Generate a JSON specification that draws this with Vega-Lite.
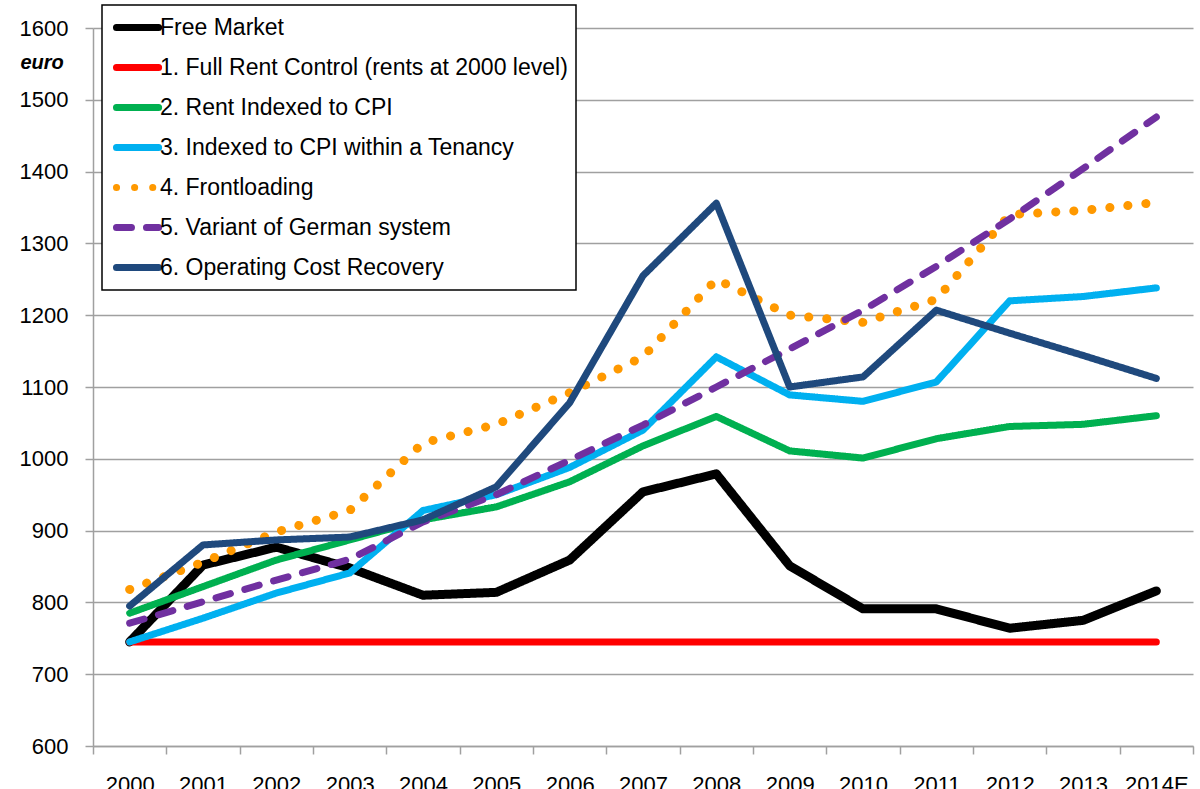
{
  "$schema": "https://vega.github.io/schema/vega-lite/v6.json",
  "width": 1100,
  "height": 718,
  "autosize": {"type": "none"},
  "padding": {"left": 93, "top": 28, "right": 7, "bottom": 43},
  "background": "white",
  "config": {"view": {"stroke": null}, "font": "Liberation Sans"},
  "data": {"values": [
    {"year": "2000", "series": "Free Market", "value": 745},
    {"year": "2001", "series": "Free Market", "value": 852},
    {"year": "2002", "series": "Free Market", "value": 877},
    {"year": "2003", "series": "Free Market", "value": 848},
    {"year": "2004", "series": "Free Market", "value": 810},
    {"year": "2005", "series": "Free Market", "value": 814},
    {"year": "2006", "series": "Free Market", "value": 859},
    {"year": "2007", "series": "Free Market", "value": 954},
    {"year": "2008", "series": "Free Market", "value": 979},
    {"year": "2009", "series": "Free Market", "value": 851},
    {"year": "2010", "series": "Free Market", "value": 791},
    {"year": "2011", "series": "Free Market", "value": 791},
    {"year": "2012", "series": "Free Market", "value": 764},
    {"year": "2013", "series": "Free Market", "value": 775},
    {"year": "2014E", "series": "Free Market", "value": 816},
    {"year": "2000", "series": "1. Full Rent Control (rents at 2000 level)", "value": 745},
    {"year": "2001", "series": "1. Full Rent Control (rents at 2000 level)", "value": 745},
    {"year": "2002", "series": "1. Full Rent Control (rents at 2000 level)", "value": 745},
    {"year": "2003", "series": "1. Full Rent Control (rents at 2000 level)", "value": 745},
    {"year": "2004", "series": "1. Full Rent Control (rents at 2000 level)", "value": 745},
    {"year": "2005", "series": "1. Full Rent Control (rents at 2000 level)", "value": 745},
    {"year": "2006", "series": "1. Full Rent Control (rents at 2000 level)", "value": 745},
    {"year": "2007", "series": "1. Full Rent Control (rents at 2000 level)", "value": 745},
    {"year": "2008", "series": "1. Full Rent Control (rents at 2000 level)", "value": 745},
    {"year": "2009", "series": "1. Full Rent Control (rents at 2000 level)", "value": 745},
    {"year": "2010", "series": "1. Full Rent Control (rents at 2000 level)", "value": 745},
    {"year": "2011", "series": "1. Full Rent Control (rents at 2000 level)", "value": 745},
    {"year": "2012", "series": "1. Full Rent Control (rents at 2000 level)", "value": 745},
    {"year": "2013", "series": "1. Full Rent Control (rents at 2000 level)", "value": 745},
    {"year": "2014E", "series": "1. Full Rent Control (rents at 2000 level)", "value": 745},
    {"year": "2000", "series": "2. Rent Indexed to CPI", "value": 785},
    {"year": "2001", "series": "2. Rent Indexed to CPI", "value": 822},
    {"year": "2002", "series": "2. Rent Indexed to CPI", "value": 859},
    {"year": "2003", "series": "2. Rent Indexed to CPI", "value": 887},
    {"year": "2004", "series": "2. Rent Indexed to CPI", "value": 915},
    {"year": "2005", "series": "2. Rent Indexed to CPI", "value": 933},
    {"year": "2006", "series": "2. Rent Indexed to CPI", "value": 968},
    {"year": "2007", "series": "2. Rent Indexed to CPI", "value": 1018},
    {"year": "2008", "series": "2. Rent Indexed to CPI", "value": 1059},
    {"year": "2009", "series": "2. Rent Indexed to CPI", "value": 1011},
    {"year": "2010", "series": "2. Rent Indexed to CPI", "value": 1001},
    {"year": "2011", "series": "2. Rent Indexed to CPI", "value": 1028},
    {"year": "2012", "series": "2. Rent Indexed to CPI", "value": 1045},
    {"year": "2013", "series": "2. Rent Indexed to CPI", "value": 1048},
    {"year": "2014E", "series": "2. Rent Indexed to CPI", "value": 1060},
    {"year": "2000", "series": "3. Indexed to CPI within a Tenancy", "value": 745},
    {"year": "2001", "series": "3. Indexed to CPI within a Tenancy", "value": 778},
    {"year": "2002", "series": "3. Indexed to CPI within a Tenancy", "value": 813},
    {"year": "2003", "series": "3. Indexed to CPI within a Tenancy", "value": 841},
    {"year": "2004", "series": "3. Indexed to CPI within a Tenancy", "value": 928},
    {"year": "2005", "series": "3. Indexed to CPI within a Tenancy", "value": 950},
    {"year": "2006", "series": "3. Indexed to CPI within a Tenancy", "value": 988},
    {"year": "2007", "series": "3. Indexed to CPI within a Tenancy", "value": 1040},
    {"year": "2008", "series": "3. Indexed to CPI within a Tenancy", "value": 1142},
    {"year": "2009", "series": "3. Indexed to CPI within a Tenancy", "value": 1089},
    {"year": "2010", "series": "3. Indexed to CPI within a Tenancy", "value": 1080},
    {"year": "2011", "series": "3. Indexed to CPI within a Tenancy", "value": 1107},
    {"year": "2012", "series": "3. Indexed to CPI within a Tenancy", "value": 1220},
    {"year": "2013", "series": "3. Indexed to CPI within a Tenancy", "value": 1226},
    {"year": "2014E", "series": "3. Indexed to CPI within a Tenancy", "value": 1238},
    {"year": "2000", "series": "4. Frontloading", "value": 818},
    {"year": "2001", "series": "4. Frontloading", "value": 856},
    {"year": "2002", "series": "4. Frontloading", "value": 898},
    {"year": "2003", "series": "4. Frontloading", "value": 928},
    {"year": "2004", "series": "4. Frontloading", "value": 1022},
    {"year": "2005", "series": "4. Frontloading", "value": 1048},
    {"year": "2006", "series": "4. Frontloading", "value": 1092},
    {"year": "2007", "series": "4. Frontloading", "value": 1142},
    {"year": "2008", "series": "4. Frontloading", "value": 1250},
    {"year": "2009", "series": "4. Frontloading", "value": 1200},
    {"year": "2010", "series": "4. Frontloading", "value": 1190},
    {"year": "2011", "series": "4. Frontloading", "value": 1222},
    {"year": "2012", "series": "4. Frontloading", "value": 1340},
    {"year": "2013", "series": "4. Frontloading", "value": 1346},
    {"year": "2014E", "series": "4. Frontloading", "value": 1357},
    {"year": "2000", "series": "5. Variant of German system", "value": 771},
    {"year": "2001", "series": "5. Variant of German system", "value": 801},
    {"year": "2002", "series": "5. Variant of German system", "value": 831},
    {"year": "2003", "series": "5. Variant of German system", "value": 860},
    {"year": "2004", "series": "5. Variant of German system", "value": 912},
    {"year": "2005", "series": "5. Variant of German system", "value": 950},
    {"year": "2006", "series": "5. Variant of German system", "value": 998},
    {"year": "2007", "series": "5. Variant of German system", "value": 1047},
    {"year": "2008", "series": "5. Variant of German system", "value": 1100},
    {"year": "2009", "series": "5. Variant of German system", "value": 1153},
    {"year": "2010", "series": "5. Variant of German system", "value": 1207},
    {"year": "2011", "series": "5. Variant of German system", "value": 1268},
    {"year": "2012", "series": "5. Variant of German system", "value": 1334},
    {"year": "2013", "series": "5. Variant of German system", "value": 1404},
    {"year": "2014E", "series": "5. Variant of German system", "value": 1476},
    {"year": "2000", "series": "6. Operating Cost Recovery", "value": 795},
    {"year": "2001", "series": "6. Operating Cost Recovery", "value": 880},
    {"year": "2002", "series": "6. Operating Cost Recovery", "value": 887},
    {"year": "2003", "series": "6. Operating Cost Recovery", "value": 891},
    {"year": "2004", "series": "6. Operating Cost Recovery", "value": 915},
    {"year": "2005", "series": "6. Operating Cost Recovery", "value": 961},
    {"year": "2006", "series": "6. Operating Cost Recovery", "value": 1078},
    {"year": "2007", "series": "6. Operating Cost Recovery", "value": 1255},
    {"year": "2008", "series": "6. Operating Cost Recovery", "value": 1356},
    {"year": "2009", "series": "6. Operating Cost Recovery", "value": 1100},
    {"year": "2010", "series": "6. Operating Cost Recovery", "value": 1114},
    {"year": "2011", "series": "6. Operating Cost Recovery", "value": 1207},
    {"year": "2012", "series": "6. Operating Cost Recovery", "value": 1175},
    {"year": "2013", "series": "6. Operating Cost Recovery", "value": 1144},
    {"year": "2014E", "series": "6. Operating Cost Recovery", "value": 1112}
  ]},
  "mark": {"type": "line", "strokeCap": "round", "strokeJoin": "round"},
  "encoding": {
    "x": {
      "field": "year", "type": "ordinal", "sort": null,
      "scale": {"type": "band", "paddingInner": 0, "paddingOuter": 0},
      "bandPosition": 0.5,
      "axis": {
        "title": null, "tickBand": "extent", "labelAngle": 0, "labelFontSize": 22,
        "labelColor": "#000", "tickSize": 8, "tickColor": "#a0a0a0", "tickWidth": 1.5,
        "domainColor": "#a0a0a0", "domainWidth": 1.5, "labelPadding": 20, "grid": false,
        "labelBaseline": "top"
      }
    },
    "y": {
      "field": "value", "type": "quantitative",
      "scale": {"domain": [600, 1600], "nice": false, "zero": false},
      "axis": {
        "values": [600, 700, 800, 900, 1000, 1100, 1200, 1300, 1400, 1500, 1600],
        "format": "d",
        "title": "euro", "titleAngle": 0, "titleX": -73, "titleY": 34, "titleAlign": "left",
        "titleBaseline": "middle", "titleFontSize": 20, "titleFontStyle": "italic",
        "titleFontWeight": "bold", "titleColor": "#000",
        "labelFontSize": 22, "labelColor": "#000", "tickSize": 8, "labelPadding": 17,
        "gridColor": "#a0a0a0", "gridWidth": 1.5, "domainColor": "#a0a0a0", "domainWidth": 1.5,
        "tickColor": "#a0a0a0", "tickWidth": 1.5
      }
    },
    "color": {
      "field": "series", "type": "nominal",
      "scale": {
        "domain": ["Free Market", "1. Full Rent Control (rents at 2000 level)", "2. Rent Indexed to CPI", "3. Indexed to CPI within a Tenancy", "4. Frontloading", "5. Variant of German system", "6. Operating Cost Recovery"],
        "range": ["#000000", "#ff0000", "#00b050", "#00b0f0", "#ff9900", "#7030a0", "#1f497d"]
      },
      "legend": {
        "title": null, "orient": "none", "legendX": 9, "legendY": -23,
        "fillColor": "white", "strokeColor": "#000", "padding": 8,
        "labelFontSize": 23, "labelColor": "#000", "labelLimit": 800,
        "symbolType": "M-0.73,0H3.1", "symbolSize": 484, "symbolStrokeWidth": 7,
        "labelOffset": 21, "rowPadding": 11,
        "encode": {
          "legend": {"update": {"strokeWidth": {"value": 1.5}}},
          "symbols": {"update": {"strokeCap": {"value": "round"}, "fill": {"value": "transparent"}}}
        }
      }
    },
    "strokeDash": {
      "field": "series", "type": "nominal",
      "scale": {
        "domain": ["Free Market", "1. Full Rent Control (rents at 2000 level)", "2. Rent Indexed to CPI", "3. Indexed to CPI within a Tenancy", "4. Frontloading", "5. Variant of German system", "6. Operating Cost Recovery"],
        "range": [[1, 0], [1, 0], [1, 0], [1, 0], [0.1, 18], [15, 15], [1, 0]]
      }
    },
    "strokeWidth": {
      "condition": {"test": "indexof(['Free Market', '4. Frontloading'], datum.series) >= 0", "value": 9},
      "value": 7
    }
  }
}
